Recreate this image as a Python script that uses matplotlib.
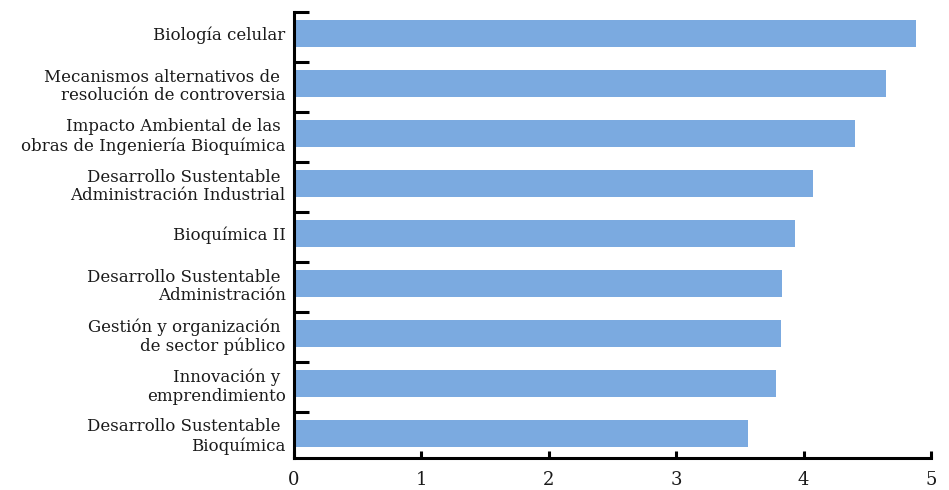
import matplotlib
matplotlib.use("Agg")
import matplotlib.pyplot as plt
import numpy as np

categories = [
    "Biología celular",
    "Mecanismos alternativos de \nresolución de controversia",
    "Impacto Ambiental de las \nobras de Ingeniería Bioquímica",
    "Desarrollo Sustentable \nAdministración Industrial",
    "Bioquímica II",
    "Desarrollo Sustentable \nAdministración",
    "Gestión y organización \nde sector público",
    "Innovación y \nemprendimiento",
    "Desarrollo Sustentable \nBioquímica",
]
values = [4.88, 4.65, 4.40, 4.07, 3.93, 3.83, 3.82, 3.78, 3.56]
xticks = [0, 1, 2, 3, 4, 5]

plt.rcParams['font.family'] = ['DejaVu Serif']

fig = plt.figure(figsize=(9.49, 4.90), dpi=100)
top_px, bot_px = 11.7, 458.0
ax = fig.add_axes([294/949, 1-bot_px/490, (931-294)/949, (bot_px-top_px)/490])

n = len(categories)
pos = np.arange(n)[::-1]
pitch_px = 50.0
span = (bot_px - top_px) / pitch_px
shift = 0.06
ax.barh(pos + shift, values, height=0.53, color="#7BAAE0", zorder=2)
ax.set_xlim(0, 5)
ax.set_ylim(n - 0.5 - span, n - 0.5)

ax.set_xticks(xticks)
ax.set_xticklabels([str(t) for t in xticks], fontsize=13, color="#1a1a1a")
ax.tick_params(axis='x', direction='in', length=5, width=2.2, pad=9)

bounds = np.arange(n + 1) - 0.5
ax.set_yticks(bounds[1:])
ax.set_yticklabels([])
ax.tick_params(axis='y', which='major', direction='in', length=11, width=2.2)
ax.set_yticks(pos + shift, minor=True)
ax.set_yticklabels(categories, minor=True, fontsize=12, color="#1a1a1a",
                   multialignment='right', linespacing=1.12)
ax.tick_params(axis='y', which='minor', length=0, pad=6)

for s in ['top', 'right']:
    ax.spines[s].set_visible(False)
for s in ['left', 'bottom']:
    ax.spines[s].set_linewidth(2.2)
    ax.spines[s].set_color('black')

fig.savefig("out.png", dpi=100)
